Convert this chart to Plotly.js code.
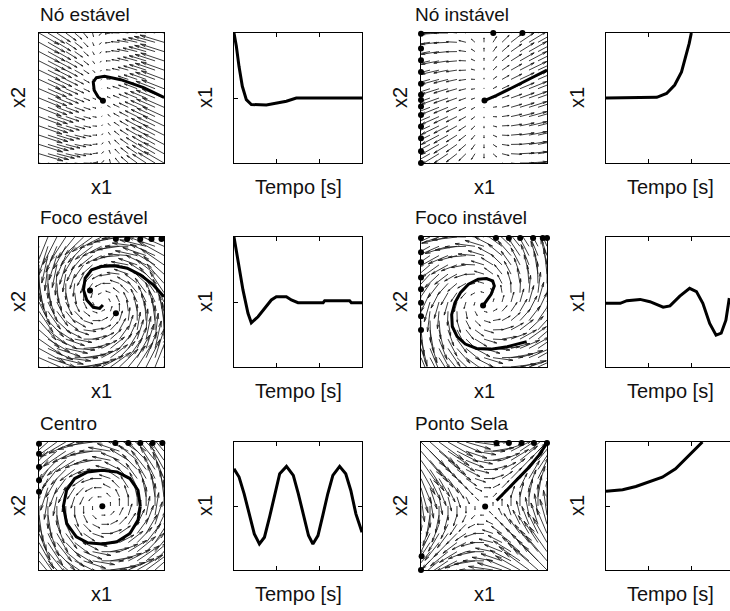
<!DOCTYPE html>
<html><head><meta charset="utf-8">
<script src="https://cdn.plot.ly/plotly-3.0.1.min.js"></script>
<style>html,body{margin:0;padding:0;overflow:hidden;background:#fff}#chart{width:736px;height:611px}</style>
</head><body><div id="chart"></div>
<script>
// ================= DATA =================
const panelTitles = ['Nó estável', 'Nó instável', 'Foco estável', 'Foco instável', 'Centro', 'Ponto Sela'];
const phaseXLabel = 'x1';
const phaseYLabel = 'x2';
const timeXLabel = 'Tempo [s]';
const timeYLabel = 'x1';
const timeXTicks = [1, 2];
const timeYTicks = [0];

// quiver grid positions (state-plane sample points)
const quiverGrid = [-1, -0.857, -0.714, -0.571, -0.429, -0.286, -0.143, 0, 0.143, 0.286, 0.429, 0.571, 0.714, 0.857, 1];

// linear systems dx/dt = A x  as [a11, a12, a21, a22]
const sysNoEstavel = [-1, -0.1, 0.4, -0.1];
const sysNoInstavel = [1, 0, 0.35, 0.2];
const sysFocoEstavel = [-0.6, -1.2, 1.2, -0.6];
const sysFocoInstavel = [0.3, -1, 1, 0.3];
const sysCentro = [0, -1, 1, 0];
const sysSela = [0, 1, 1, 0];

// Nó estável
const trajNoEstX = [1.0, 0.673, 0.309, 0.049, -0.081, -0.132, -0.117, -0.055, 0.023];
const trajNoEstY = [0.008, 0.160, 0.282, 0.333, 0.313, 0.247, 0.120, 0.018, -0.043];
const dotsNoEstX = [0.023];
const dotsNoEstY = [-0.043];
const timeNoEstT = [0, 0.055, 0.117, 0.195, 0.289, 0.406, 0.758, 0.992, 1.227, 1.46, 3];
const timeNoEstX1 = [1, 0.795, 0.487, 0.18, -0.026, -0.10, -0.108, -0.077, -0.05, 0, 0];

// Nó instável
const trajNoInsX = [0.008, 0.2, 0.43, 0.69, 1.0];
const trajNoInsY = [-0.04, 0.04, 0.15, 0.28, 0.43];
const dotsNoInsX = [0.008, -1, -1, -1, -1, -1, -1, -1, -1, -1, -1, -1, -1, -1, 0.147, 0.61];
const dotsNoInsY = [-0.04, 0.99, 0.76, 0.58, 0.40, 0.22, 0.05, -0.03, -0.13, -0.26, -0.44, -0.62, -0.82, -1.0, 1, 1];
const timeNoInsT = [0, 0.95, 1.19, 1.42, 1.61, 1.77, 1.87, 1.95, 2.0];
const timeNoInsX1 = [0, 0, 0.01, 0.07, 0.2, 0.4, 0.63, 0.84, 1.0];

// Foco estável
const trajFocoEstX = [1.0, 0.829, 0.62, 0.413, 0.205, -0.003, -0.158, -0.262, -0.288, -0.236, -0.132, -0.029, 0.023];
const trajFocoEstY = [0.082, 0.263, 0.418, 0.52, 0.557, 0.546, 0.495, 0.366, 0.186, 0.031, -0.082, -0.098, -0.046];
const dotsFocoEstX = [-0.184, 0.231, 0.23, 0.41, 0.62, 0.80, 0.96];
const dotsFocoEstY = [0.175, -0.175, 0.97, 0.97, 0.97, 0.97, 0.97];
const timeFocoEstT = [0, 0.094, 0.21, 0.328, 0.406, 0.5625, 0.72, 0.875, 0.992, 1.227, 1.344, 1.5, 2.09, 2.125, 2.71, 2.75, 3];
const timeFocoEstX1 = [1, 0.65, 0.186, -0.175, -0.32, -0.227, -0.098, 0.031, 0.082, 0.082, 0.031, -0.01, -0.01, 0.02, 0.02, -0.01, -0.01];

// Foco instável
const trajFocoInsX = [-0.015, 0.036, 0.113, 0.164, 0.138, 0.036, -0.092, -0.246, -0.374, -0.462, -0.513, -0.503, -0.426, -0.297, -0.118, 0.113, 0.369, 0.677];
const trajFocoInsY = [-0.055, 0.013, 0.117, 0.247, 0.325, 0.361, 0.351, 0.273, 0.143, -0.013, -0.195, -0.377, -0.532, -0.647, -0.714, -0.725, -0.688, -0.61];
const dotsFocoInsX = [-0.015, -1, -1, -1, -1, -1, -1, -1, -1, 0.19, 0.395, 0.574, 0.78, 0.933, 1.0];
const dotsFocoInsY = [-0.055, 0.984, 0.766, 0.61, 0.377, 0.195, -0.013, -0.221, -0.429, 0.984, 0.984, 0.984, 0.984, 0.984, 0.984];
const timeFocoInsT = [0, 0.333, 0.49, 0.8, 1.03, 1.34, 1.5, 1.73, 1.96, 2.12, 2.27, 2.43, 2.58, 2.7, 2.81, 2.89];
const timeFocoInsX1 = [-0.02, -0.02, 0.02, 0.04, 0.005, -0.08, -0.06, 0.09, 0.21, 0.16, -0.02, -0.33, -0.51, -0.48, -0.28, 0.06];

// Centro
const trajCentroX = [0.621, 0.584, 0.455, 0.247, 0.013, -0.221, -0.429, -0.558, -0.61, -0.558, -0.403, -0.221, 0.013, 0.247, 0.455, 0.584, 0.621];
const trajCentroY = [-0.003, 0.247, 0.429, 0.532, 0.558, 0.532, 0.429, 0.247, -0.003, -0.273, -0.481, -0.574, -0.595, -0.558, -0.429, -0.221, -0.003];
const dotsCentroX = [0.013, -1, -1, -1, -1, -1, 0.221, 0.429, 0.621, 0.818, 0.974];
const dotsCentroY = [-0.003, 0.974, 0.818, 0.61, 0.403, 0.221, 0.984, 0.984, 0.984, 0.984, 0.984];
const timeCentroT = [0, 0.119, 0.238, 0.357, 0.476, 0.595, 0.714, 0.833, 0.952, 1.071, 1.23, 1.39, 1.508, 1.627, 1.746, 1.849, 1.968, 2.08, 2.198, 2.317, 2.476, 2.619, 2.738, 2.857, 3.0];
const timeCentroX1 = [0.582, 0.452, 0.191, -0.123, -0.436, -0.593, -0.488, -0.175, 0.191, 0.504, 0.619, 0.478, 0.191, -0.149, -0.462, -0.593, -0.462, -0.149, 0.191, 0.478, 0.619, 0.504, 0.243, -0.123, -0.41];

// Ponto Sela
const trajSelaX = [0.2, 0.43, 0.69, 0.87, 1.0];
const trajSelaY = [0.086, 0.32, 0.58, 0.79, 0.984];
const dotsSelaX = [0.018, 0.199, 0.395, 0.597, 0.793, 1.0, -0.99, -1.0];
const dotsSelaY = [-0.008, 0.984, 0.984, 0.984, 0.984, 0.984, -0.786, -1.0];
const timeSelaT = [0, 0.39, 0.70, 1.01, 1.32, 1.63, 1.87, 2.06, 2.26];
const timeSelaX1 = [0.232, 0.253, 0.305, 0.373, 0.45, 0.582, 0.739, 0.869, 1.0];

// ================= LAYOUT GEOMETRY (pixels) =================
const W = 736, H = 611;
const colL = [39, 234, 421, 606];
const colR = [164, 362, 547, 734];
const rowT = [33, 237, 442];
const rowB = [163, 367, 570];
const titleShift = [-1, 0, -8, 0];
const ylabShift = [21, 29, 21, 29];

const FONT = 'Arial, "Liberation Sans", Helvetica, sans-serif';
const FS = 20;
const FS_TITLE = 19;

const phasePanels = [
  {r: 0, c: 0, title: panelTitles[0], sys: sysNoEstavel, L: 0.4, tx: trajNoEstX, ty: trajNoEstY, dx: dotsNoEstX, dy: dotsNoEstY, tt: timeNoEstT, tv: timeNoEstX1},
  {r: 0, c: 2, title: panelTitles[1], sys: sysNoInstavel, L: 0.45, tx: trajNoInsX, ty: trajNoInsY, dx: dotsNoInsX, dy: dotsNoInsY, tt: timeNoInsT, tv: timeNoInsX1},
  {r: 1, c: 0, title: panelTitles[2], sys: sysFocoEstavel, L: 0.55, tx: trajFocoEstX, ty: trajFocoEstY, dx: dotsFocoEstX, dy: dotsFocoEstY, tt: timeFocoEstT, tv: timeFocoEstX1},
  {r: 1, c: 2, title: panelTitles[3], sys: sysFocoInstavel, L: 0.52, tx: trajFocoInsX, ty: trajFocoInsY, dx: dotsFocoInsX, dy: dotsFocoInsY, tt: timeFocoInsT, tv: timeFocoInsX1},
  {r: 2, c: 0, title: panelTitles[4], sys: sysCentro, L: 0.58, tx: trajCentroX, ty: trajCentroY, dx: dotsCentroX, dy: dotsCentroY, tt: timeCentroT, tv: timeCentroX1},
  {r: 2, c: 2, title: panelTitles[5], sys: sysSela, L: 0.55, tx: trajSelaX, ty: trajSelaY, dx: dotsSelaX, dy: dotsSelaY, tt: timeSelaT, tv: timeSelaX1}
];

// MATLAB-style arrows (narrow heads)
function quiver(sys, Lmax) {
  const vs = []; let maxN = 0;
  for (const y of quiverGrid) for (const x of quiverGrid) {
    const u = sys[0] * x + sys[1] * y, v = sys[2] * x + sys[3] * y;
    vs.push([x, y, u, v]); maxN = Math.max(maxN, Math.hypot(u, v));
  }
  const s = Lmax / maxN, X = [], Y = [], al = 0.22, be = 0.22;
  for (const [x, y, u, v] of vs) {
    const du = s * u, dv = s * v;
    const tx = x + du, ty = y + dv;
    X.push(x, tx, null,
      tx - al * (du + be * dv), tx, tx - al * (du - be * dv), null);
    Y.push(y, ty, null,
      ty - al * (dv - be * du), ty, ty - al * (dv + be * du), null);
  }
  return {X, Y};
}

const traces = [];
const layout = {
  width: W, height: H, margin: {l: 0, r: 0, t: 0, b: 0},
  paper_bgcolor: '#fff', plot_bgcolor: '#fff', showlegend: false,
  font: {family: FONT, size: FS, color: '#000'},
  annotations: []
};

function axName(k) { return k === 1 ? '' : String(k); }
function addAxes(k, c, r, isTime) {
  const xd = [colL[c] / W, colR[c] / W], yd = [1 - rowB[r] / H, 1 - rowT[r] / H];
  const common = {showgrid: false, zeroline: false, showline: true, linecolor: '#000', linewidth: 1,
    showticklabels: false, fixedrange: true};
  layout['xaxis' + axName(k)] = Object.assign({}, common, {domain: xd, anchor: 'y' + axName(k),
    range: isTime ? [0, 3] : [-1, 1], mirror: isTime ? 'ticks' : true,
    ticks: isTime ? 'inside' : '', tickvals: isTime ? timeXTicks : [], ticklen: 4, tickcolor: '#000', tickwidth: 1});
  layout['yaxis' + axName(k)] = Object.assign({}, common, {domain: yd, anchor: 'x' + axName(k),
    range: [-1, 1], mirror: isTime ? 'ticks' : true,
    ticks: isTime ? 'inside' : '', tickvals: isTime ? timeYTicks : [], ticklen: 4, tickcolor: '#000', tickwidth: 1});
}
function ann(text, xpx, ypx, opts, fs) {
  layout.annotations.push(Object.assign({text, x: xpx / W, y: 1 - ypx / H, xref: 'paper', yref: 'paper',
    showarrow: false, xanchor: 'center', yanchor: 'middle', font: {family: FONT, size: fs || FS, color: '#111'}}, opts || {}));
}

for (const p of phasePanels) {
  const kP = p.r * 4 + p.c + 1, kT = kP + 1;
  addAxes(kP, p.c, p.r, false);
  addAxes(kT, p.c + 1, p.r, true);
  const xa = 'x' + axName(kP), ya = 'y' + axName(kP);
  const q = quiver(p.sys, p.L);
  traces.push({type: 'scatter', mode: 'lines', x: q.X, y: q.Y, xaxis: xa, yaxis: ya,
    line: {color: '#1a1a1a', width: 0.85}, hoverinfo: 'skip'});
  traces.push({type: 'scatter', mode: 'lines', x: p.tx, y: p.ty, xaxis: xa, yaxis: ya,
    line: {color: '#000', width: 3}, hoverinfo: 'skip'});
  traces.push({type: 'scatter', mode: 'markers', x: p.dx, y: p.dy, xaxis: xa, yaxis: ya, cliponaxis: false,
    marker: {color: '#000', size: 6}, hoverinfo: 'skip'});
  traces.push({type: 'scatter', mode: 'lines', x: p.tt, y: p.tv, xaxis: 'x' + axName(kT), yaxis: 'y' + axName(kT),
    line: {color: '#000', width: 3}, hoverinfo: 'skip'});
  // labels
  ann(p.title, colL[p.c] + titleShift[p.c], rowT[p.r] - 19, {xanchor: 'left'}, FS_TITLE);
  ann(phaseXLabel, (colL[p.c] + colR[p.c]) / 2, rowB[p.r] + 24);
  ann(timeXLabel, (colL[p.c + 1] + colR[p.c + 1]) / 2, rowB[p.r] + 24);
  ann(phaseYLabel, colL[p.c] - ylabShift[p.c], (rowT[p.r] + rowB[p.r]) / 2, {textangle: -90});
  ann(timeYLabel, colL[p.c + 1] - ylabShift[p.c + 1], (rowT[p.r] + rowB[p.r]) / 2, {textangle: -90});
}

Plotly.newPlot('chart', traces, layout, {staticPlot: true, displayModeBar: false});
</script></body></html>
